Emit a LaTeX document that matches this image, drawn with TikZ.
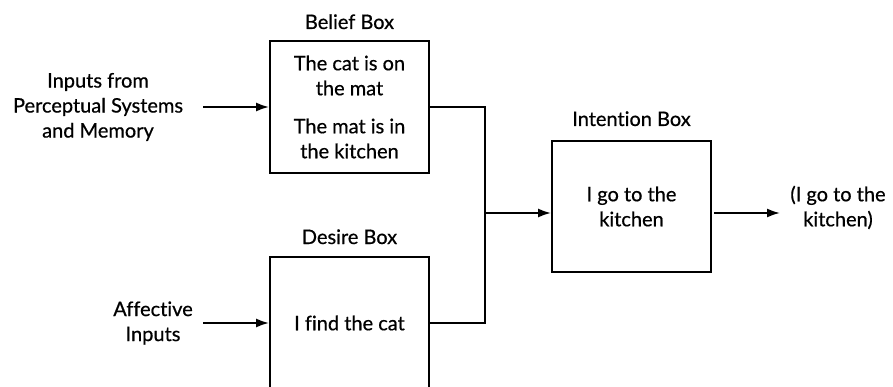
\documentclass[tikz,border=0pt]{standalone}
\usepackage{fontspec}
\setmainfont[Ligatures=NoCommon,FakeBold=0.6]{Lato}
\usetikzlibrary{arrows.meta}
\begin{document}
\begin{tikzpicture}[x=1pt,y=-1pt,
  font=\fontsize{20}{25}\selectfont,
  line width=1.9pt,
  boxnode/.style={draw,line width=1.9pt,minimum width=159pt,minimum height=132pt,inner sep=0pt,align=center},
  lbl/.style={align=center,inner sep=0pt},
  arr/.style={-{Latex[length=13pt,width=9pt]}}]
\useasboundingbox (0,0) rectangle (893,387);
\clip (0,0) rectangle (893,387);
\node[boxnode] (belief) at (349.5,107) {The cat is on\\the mat\\[13pt]The mat is in\\the kitchen};
\node[lbl,anchor=base] (belieflbl) at (349.5,29) {Belief Box};
\node[boxnode] (desire) at (349.5,323) {I find the cat};
\node[lbl,anchor=base] (desirelbl) at (349.5,244) {Desire Box};
\node[boxnode,minimum height=131pt] (intention) at (631.5,206.5) {I go to the\\kitchen};
\node[lbl,anchor=base] (intentionlbl) at (631.5,126) {Intention Box};
\node[lbl] (inputs) at (98,107) {Inputs from\\Perceptual Systems\\and Memory};
\node[lbl] (affective) at (153,323) {Affective\\Inputs};
\node[lbl] (output) at (838,207.5) {(I go to the\\kitchen)};
\coordinate (in1) at (203,107);
\coordinate (in2) at (203,323);
\coordinate (jtop) at (485,107);
\coordinate (jbot) at (485,323);
\coordinate (junction) at (485,213);
\coordinate (outend) at (780,213);
\draw[arr] (in1) -- (belief.west |- in1);
\draw[arr] (in2) -- (desire.west |- in2);
\draw (belief.east |- jtop) -- (jtop) -- (jbot) -- (desire.east |- jbot);
\draw[arr] (junction) -- (junction -| intention.west);
\draw[arr] ([xshift=2pt]intention.east |- outend) -- (outend);
\end{tikzpicture}
\end{document}
